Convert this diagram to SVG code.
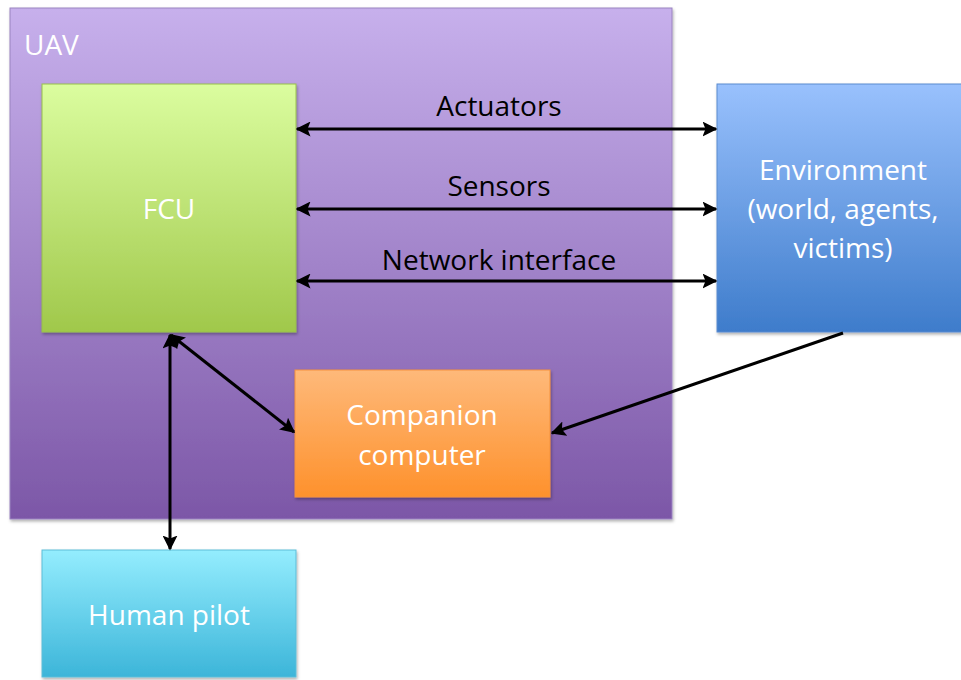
<svg xmlns="http://www.w3.org/2000/svg" width="961" height="680" viewBox="0 0 961 680">
<defs>
<linearGradient id="gUav" x1="0" y1="0" x2="0" y2="1"><stop offset="0" stop-color="#c7b0ec"/><stop offset="1" stop-color="#7c57a7"/></linearGradient>
<linearGradient id="gFcu" x1="0" y1="0" x2="0" y2="1"><stop offset="0" stop-color="#dbfd9f"/><stop offset="1" stop-color="#a0c84b"/></linearGradient>
<linearGradient id="gEnv" x1="0" y1="0" x2="0" y2="1"><stop offset="0" stop-color="#99c1fd"/><stop offset="1" stop-color="#3e7ccb"/></linearGradient>
<linearGradient id="gCmp" x1="0" y1="0" x2="0" y2="1"><stop offset="0" stop-color="#feb97a"/><stop offset="1" stop-color="#fe912c"/></linearGradient>
<linearGradient id="gHum" x1="0" y1="0" x2="0" y2="1"><stop offset="0" stop-color="#94edfe"/><stop offset="1" stop-color="#3cb5d9"/></linearGradient>
<filter id="sh" x="-5%" y="-5%" width="112%" height="115%"><feDropShadow dx="1" dy="2" stdDeviation="1.5" flood-color="#000" flood-opacity="0.3"/></filter>
<marker id="ah" viewBox="0 0 10 10" refX="9" refY="5" markerWidth="5" markerHeight="5" orient="auto-start-reverse"><path d="M0,0 L10,5 L0,10 L2,5 z" fill="#000"/></marker>
<style>
.t{font-family:"Open Sans","Liberation Sans",sans-serif;font-size:28px;fill:#fff;text-anchor:middle}
.l{font-family:"Open Sans","Liberation Sans",sans-serif;font-size:28px;fill:#000;text-anchor:middle}
.c{stroke:#000;stroke-width:3;fill:none;marker-start:url(#ah);marker-end:url(#ah)}
.c1{stroke:#000;stroke-width:3;fill:none;marker-end:url(#ah)}
</style>
</defs>
<g id="uav">
<rect x="10" y="8" width="662" height="511" fill="url(#gUav)" stroke="#9a83c0" stroke-width="1" filter="url(#sh)"/>
<text x="24" y="55" class="t" style="text-anchor:start">UAV</text>
</g>
<g id="fcu">
<rect x="42" y="84" width="254" height="248" fill="url(#gFcu)" stroke="#98c04a" stroke-width="1" filter="url(#sh)"/>
<text x="169" y="219" class="t">FCU</text>
</g>
<g id="environment">
<rect x="717" y="84" width="260" height="248" fill="url(#gEnv)" stroke="#5b8bd0" stroke-width="1" filter="url(#sh)"/>
<text class="t"><tspan x="843" y="180">Environment</tspan><tspan x="843" y="219">(world, agents,</tspan><tspan x="843" y="258">victims)</tspan></text>
</g>
<g id="companion">
<rect x="295" y="370" width="255" height="127" fill="url(#gCmp)" stroke="#f5923c" stroke-width="1" filter="url(#sh)"/>
<text class="t"><tspan x="422" y="425">Companion</tspan><tspan x="422" y="465">computer</tspan></text>
</g>
<g id="pilot">
<rect x="42" y="550" width="254" height="127" fill="url(#gHum)" stroke="#5cbdd8" stroke-width="1" filter="url(#sh)"/>
<text x="169" y="625" class="t">Human pilot</text>
</g>
<g id="connectors">
<line x1="297" y1="129" x2="716" y2="129" class="c"/>
<line x1="297" y1="209" x2="716" y2="209" class="c"/>
<line x1="297" y1="281" x2="716" y2="281" class="c"/>
<text x="499" y="116" class="l">Actuators</text>
<text x="499" y="196" class="l">Sensors</text>
<text x="499" y="270" class="l">Network interface</text>
<line x1="171" y1="335" x2="294" y2="432" class="c"/>
<line x1="170" y1="335" x2="170" y2="549" class="c"/>
<line x1="843" y1="333" x2="552" y2="433" class="c1"/>
</g>
</svg>
